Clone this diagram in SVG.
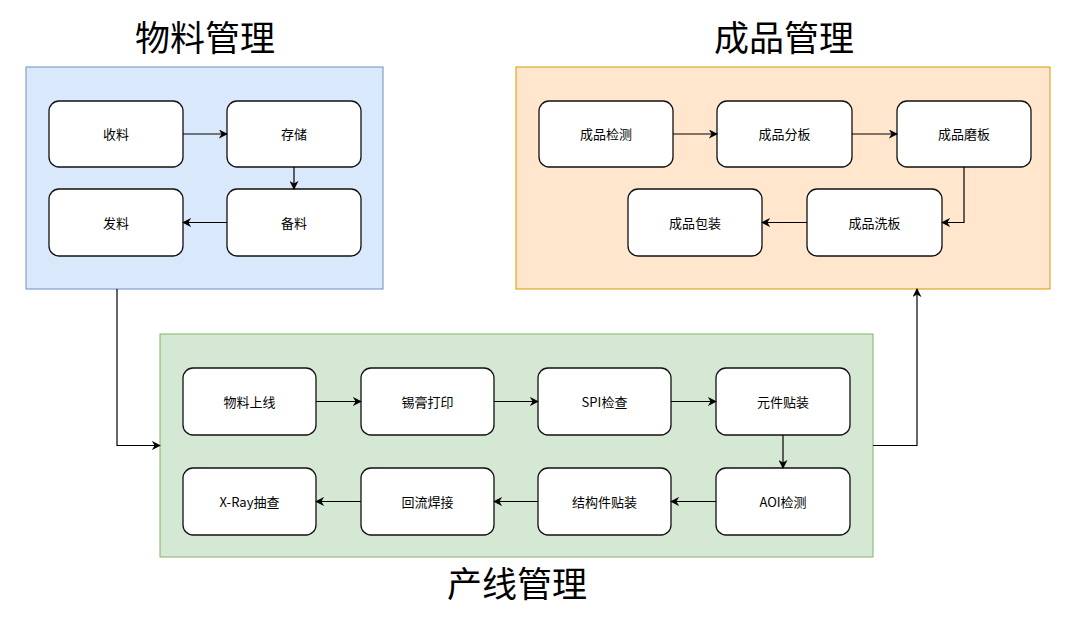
<svg xmlns="http://www.w3.org/2000/svg" width="1080" height="624" viewBox="0 0 1080 624">
<defs>
<marker id="arr" viewBox="0 0 10 10" refX="9" refY="5" markerWidth="9" markerHeight="9" markerUnits="userSpaceOnUse" orient="auto">
<path d="M0,0 L10,5 L0,10 L3,5 Z" fill="#000"/>
</marker>
<style>
text{font-family:"Noto Sans CJK SC","Liberation Sans",sans-serif;text-anchor:middle;fill:#000}
.title{font-size:35px;font-weight:normal}
.lbl{font-size:13px;font-weight:normal;dominant-baseline:central}
.node rect{fill:#fff;stroke:#111;stroke-width:1.3}
.edge{fill:none;stroke:#000;stroke-width:1.2;marker-end:url(#arr)}
</style>
</defs>
<rect width="1080" height="624" fill="#fff"/>
<g id="group-material">
<rect x="26" y="67" width="357" height="222" fill="#dae8fc" stroke="#6c8ebf" stroke-width="1"/>
<text class="title" x="205" y="51">物料管理</text>
</g>
<g id="group-product">
<rect x="516" y="67" width="534" height="222" fill="#ffe6cc" stroke="#d79b00" stroke-width="1"/>
<text class="title" x="784" y="51">成品管理</text>
</g>
<g id="group-line">
<rect x="160" y="334" width="713" height="223" fill="#d5e8d4" stroke="#82b366" stroke-width="1"/>
<text class="title" x="517" y="597">产线管理</text>
</g>
<g id="n-shouliao" class="node"><rect x="49" y="101" width="134" height="66" rx="10"/><text class="lbl" x="116" y="133.5">收料</text></g>
<g id="n-cunchu" class="node"><rect x="227" y="101" width="134" height="66" rx="10"/><text class="lbl" x="294" y="133.5">存储</text></g>
<g id="n-fania" class="node"><rect x="49" y="189" width="134" height="67" rx="10"/><text class="lbl" x="116" y="222">发料</text></g>
<g id="n-beiliao" class="node"><rect x="227" y="189" width="134" height="67" rx="10"/><text class="lbl" x="294" y="222">备料</text></g>
<g id="n-jiance" class="node"><rect x="539" y="101" width="134" height="66" rx="10"/><text class="lbl" x="606" y="133.5">成品检测</text></g>
<g id="n-fenban" class="node"><rect x="717" y="101" width="135" height="66" rx="10"/><text class="lbl" x="784.5" y="133.5">成品分板</text></g>
<g id="n-moban" class="node"><rect x="897" y="101" width="134" height="66" rx="10"/><text class="lbl" x="964" y="133.5">成品磨板</text></g>
<g id="n-baozhuang" class="node"><rect x="628" y="189" width="134" height="67" rx="10"/><text class="lbl" x="695" y="222">成品包装</text></g>
<g id="n-xiban" class="node"><rect x="807" y="189" width="135" height="67" rx="10"/><text class="lbl" x="874.5" y="222">成品洗板</text></g>
<g id="n-shangxian" class="node"><rect x="183" y="368" width="133" height="67" rx="10"/><text class="lbl" x="249.5" y="401">物料上线</text></g>
<g id="n-xigao" class="node"><rect x="361" y="368" width="133" height="67" rx="10"/><text class="lbl" x="427.5" y="401">锡膏打印</text></g>
<g id="n-spi" class="node"><rect x="538" y="368" width="133" height="67" rx="10"/><text class="lbl" x="604.5" y="401">SPI检查</text></g>
<g id="n-yuanjian" class="node"><rect x="716" y="368" width="134" height="67" rx="10"/><text class="lbl" x="783" y="401">元件贴装</text></g>
<g id="n-xray" class="node"><rect x="183" y="468" width="133" height="67" rx="10"/><text class="lbl" x="249.5" y="501">X-Ray抽查</text></g>
<g id="n-huiliu" class="node"><rect x="361" y="468" width="133" height="67" rx="10"/><text class="lbl" x="427.5" y="501">回流焊接</text></g>
<g id="n-jiegou" class="node"><rect x="538" y="468" width="133" height="67" rx="10"/><text class="lbl" x="604.5" y="501">结构件贴装</text></g>
<g id="n-aoi" class="node"><rect x="716" y="468" width="134" height="67" rx="10"/><text class="lbl" x="783" y="501">AOI检测</text></g>
<g id="connectors">
<path class="edge" d="M183,134 H227"/>
<path class="edge" d="M294,167 V189"/>
<path class="edge" d="M227,222.5 H183"/>
<path class="edge" d="M673,134 H717"/>
<path class="edge" d="M852,134 H897"/>
<path class="edge" d="M964,167 V222.5 H942"/>
<path class="edge" d="M807,222.5 H762"/>
<path class="edge" d="M316,401.5 H361"/>
<path class="edge" d="M494,401.5 H538"/>
<path class="edge" d="M671,401.5 H716"/>
<path class="edge" d="M783,435 V468"/>
<path class="edge" d="M716,501.5 H671"/>
<path class="edge" d="M538,501.5 H494"/>
<path class="edge" d="M361,501.5 H316"/>
<path class="edge" d="M117,289 V445.5 H160"/>
<path class="edge" d="M873,445.5 H917 V289"/>
</g>
</svg>
